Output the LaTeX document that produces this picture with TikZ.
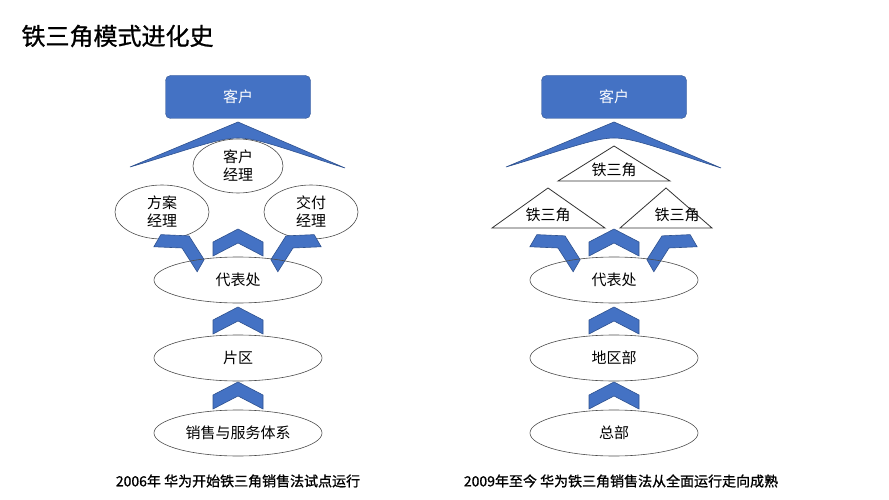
\documentclass[tikz,border=0pt]{standalone}
\usepackage{fontspec}
\usetikzlibrary{shapes.geometric}
\setmainfont{Noto Sans CJK SC}
\newfontfamily\cjkb[FakeBold=1]{Noto Sans CJK SC}
\definecolor{blu}{HTML}{4472C4}
\definecolor{dblu}{HTML}{2F528F}
\begin{document}
\begin{tikzpicture}[x=1pt,y=-1pt,
  box/.style={draw=dblu,fill=blu,rounded corners=5pt,minimum width=145pt,minimum height=43pt,text=white,font=\fontsize{15}{17}\selectfont},
  ell/.style={draw=black!70,ellipse,line width=0.6pt,font=\fontsize{15}{18}\selectfont,align=center,inner sep=0pt},
  shp/.style={fill=blu,draw=dblu,line width=0.6pt},
  tri/.style={draw=black!80,line width=0.8pt,fill=white},
  lbl/.style={font=\fontsize{15}{17}\selectfont},
  captxt/.style={font=\cjkb\fontsize{14}{16}\selectfont}]
\useasboundingbox (0,0) rectangle (889,500);
\node[anchor=west,font=\cjkb\fontsize{24}{28}\selectfont] (title) at (18,36) {铁三角模式进化史};
\newcommand\chev[3]{\fill[shp,shift={(#1,#2)},rotate=#3] (-25,-1)--(0,-14)--(25,-1)--(25,13)--(0,0)--(-25,13)--cycle;}
\newcommand\roof[1]{\fill[shp,shift={(#1,0)}] (-108,167)--(0,122)--(107,168) .. controls (50,150) and (20,138) .. (0,138) .. controls (-20,138) and (-50,150) .. (-108,167)--cycle;}
% left
\node[box] (c1) at (238,97) {客户};
\roof{238}
\node[ell,minimum width=90pt,minimum height=54pt] (m1) at (238,166) {客户\\经理};
\node[ell,minimum width=94pt,minimum height=54pt] (f1) at (162,212) {方案\\经理};
\node[ell,minimum width=94pt,minimum height=54pt] (j1) at (311,212) {交付\\经理};
\chev{238}{243}{0}\chev{182}{248}{-30}\chev{293}{248}{30}
\node[ell,minimum width=168pt,minimum height=46pt] (d1) at (238,280) {代表处};
\chev{238}{321}{0}
\node[ell,minimum width=168pt,minimum height=46pt] (p1) at (238,358) {片区};
\chev{238}{396}{0}
\node[ell,minimum width=168pt,minimum height=46pt] (s1) at (238,433) {销售与服务体系};
\node[captxt] (t1) at (238,481) {2006年 华为开始铁三角销售法试点运行};
% right
\node[box] (c2) at (614,97) {客户};
\roof{614}
\draw[tri] (614,146)--(558,181)--(670,181)--cycle;
\node[lbl] (a1) at (614,170) {铁三角};
\draw[tri] (548,188)--(492,228)--(605,228)--cycle;
\node[lbl] (a2) at (548,215) {铁三角};
\draw[tri] (666,188)--(620,228)--(712,228)--cycle;
\node[lbl] (a3) at (677,215) {铁三角};
\chev{614}{243}{0}\chev{558}{248}{-30}\chev{669}{248}{30}
\node[ell,minimum width=168pt,minimum height=46pt] (d2) at (614,280) {代表处};
\chev{614}{321}{0}
\node[ell,minimum width=168pt,minimum height=46pt] (p2) at (614,358) {地区部};
\chev{614}{396}{0}
\node[ell,minimum width=168pt,minimum height=46pt] (s2) at (614,433) {总部};
\node[captxt] (t2) at (621,481) {2009年至今 华为铁三角销售法从全面运行走向成熟};
\end{tikzpicture}
\end{document}
